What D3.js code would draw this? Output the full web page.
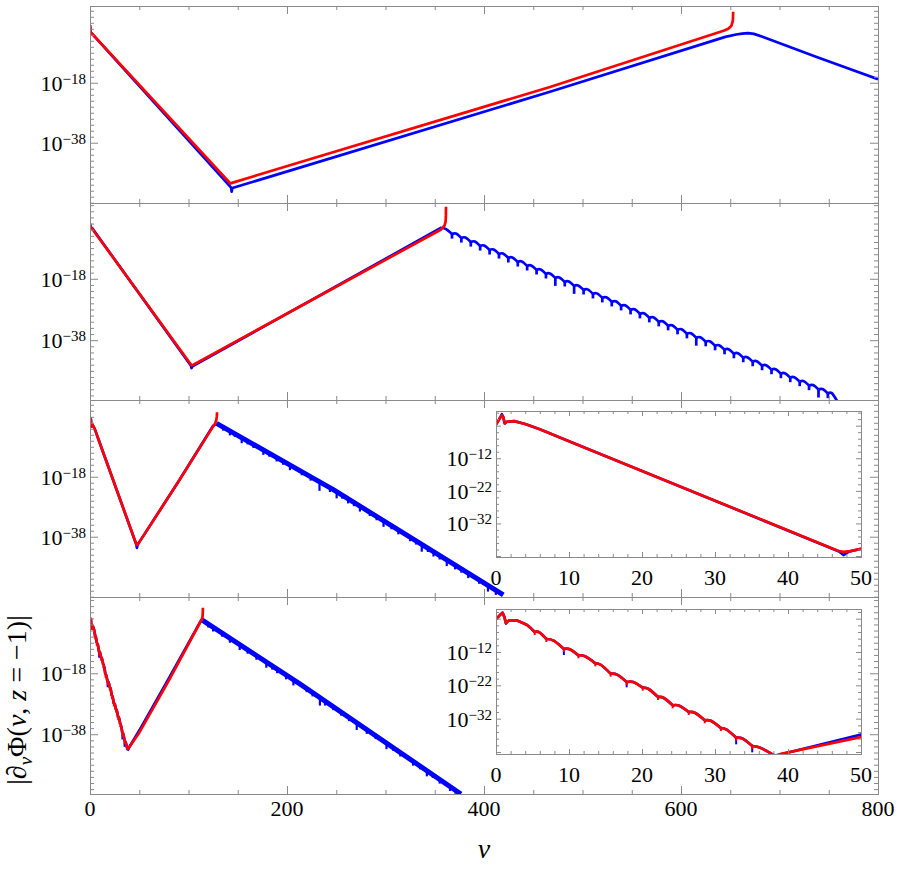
<!DOCTYPE html>
<html>
<head>
<meta charset="utf-8">
<script src="https://cdn.jsdelivr.net/npm/d3@7"></script>
<style>
  body { margin: 0; background: #fff; }
</style>
</head>
<body>
<script>
// values are [v, log10 |d_v Phi|]

// panel 1
const p1Blue = [[0,1.2],[0.7,-1.2],[2,-1.6],[143.3,-53.0],[143.8,-54.3],[144.6,-53.1],[213,-46.3],[467,-21.0],
  [645,-2.7],[656,-1.9],[662,-1.6],[668,-1.45],[674,-1.7],[682,-2.6],[737.7,-9.4],[800,-16.8]];
const p1Red = [[0,1.2],[0.7,-1.2],[2,-1.6],[142.5,-51.6],[145,-51.3],[213,-44.5],[467,-19.4],[644,-0.6],
  [648,0.0],[651,0.9],[652.6,2.6],[653,5.7]];

// panel 2
const p2Blue = [[0,0.0],[0.7,-1.2],[2,-1.4],[102.5,-46.3],[103,-47.1],[104,-46.5],[357,-1.3]];
// tail: cusp, arch top, cusp, arch top, ...
const p2BlueArches = [
  [357,-1.3],[361.5,-1.8],[367.5,-3.4],[371.5,-3.25],[377.0,-4.7],[381.0,-4.55],[386.6,-6.0],[390.6,-5.85],
  [396.1,-7.3],[400.1,-7.15],[405.7,-8.6],[409.7,-8.45],[415.2,-9.9],[419.2,-9.75],[424.7,-11.2],[428.7,-11.05],
  [434.3,-12.5],[438.3,-12.35],[443.8,-13.8],[447.8,-13.65],[453.4,-15.1],[457.4,-14.95],[462.9,-16.4],[466.9,-16.25],
  [472.4,-17.7],[476.4,-17.55],[482.0,-19.0],[486.0,-18.85],[491.5,-20.3],[495.5,-20.15],[501.1,-21.6],[505.1,-21.45],
  [510.6,-22.9],[514.6,-22.75],[520.1,-24.2],[524.1,-24.05],[529.7,-25.5],[533.7,-25.35],[539.2,-26.8],[543.2,-26.65],
  [548.8,-28.1],[552.8,-27.95],[558.3,-29.4],[562.3,-29.25],[567.8,-30.7],[571.8,-30.55],[577.4,-32.0],[581.4,-31.85],
  [586.9,-33.3],[590.9,-33.15],[596.5,-34.6],[600.5,-34.45],[606.0,-35.9],[610.0,-35.75],[615.5,-37.2],[619.5,-37.05],
  [625.1,-38.5],[629.1,-38.35],[634.6,-39.8],[638.6,-39.65],[644.2,-41.1],[648.2,-40.95],[653.7,-42.4],[657.7,-42.25],
  [663.2,-43.7],[667.2,-43.55],[672.8,-45.0],[676.8,-44.85],[682.3,-46.3],[686.3,-46.15],[691.9,-47.6],[695.9,-47.45],
  [701.4,-48.9],[705.4,-48.75],[710.9,-50.2],[714.9,-50.05],[720.5,-51.5],[724.5,-51.35],[730.0,-52.8],[734.0,-52.65],
  [739.6,-54.1],[743.6,-53.95],[749.1,-55.4],[753.1,-55.25],[758.6,-57.9]];
// [v, top, tip]
const p2BlueSpikes = [
  [367.5,-3.4,-4.9],[377.0,-4.7,-6.2],[386.6,-6.0,-7.5],[396.1,-7.3,-8.8],[405.7,-8.6,-10.1],[415.2,-9.9,-11.4],
  [424.7,-11.2,-12.7],[434.3,-12.5,-14.0],[443.8,-13.8,-15.3],[453.4,-15.1,-16.6],[462.9,-16.4,-17.9],[472.4,-17.7,-20.3],
  [482.0,-19.0,-20.5],[491.5,-20.3,-22.9],[501.1,-21.6,-23.1],[510.6,-22.9,-24.4],[520.1,-24.2,-25.7],[529.7,-25.5,-27.0],
  [539.2,-26.8,-28.3],[548.8,-28.1,-29.6],[558.3,-29.4,-30.9],[567.8,-30.7,-32.2],[577.4,-32.0,-33.5],[586.9,-33.3,-34.8],
  [596.5,-34.6,-36.1],[606.0,-35.9,-37.4],[615.5,-37.2,-39.8],[625.1,-38.5,-40.0],[634.6,-39.8,-41.3],[644.2,-41.1,-42.6],
  [653.7,-42.4,-43.9],[663.2,-43.7,-45.2],[672.8,-45.0,-46.5],[682.3,-46.3,-47.8],[691.9,-47.6,-49.1],[701.4,-48.9,-50.4],
  [710.9,-50.2,-51.7],[720.5,-51.5,-53.0],[730.0,-52.8,-54.3],[739.6,-54.1,-56.7],[749.1,-55.4,-56.9]];
const p2Red = [[0,-0.3],[0.7,-1.3],[2,-1.6],[103,-46.2],[105,-46.0],[356,-2.0],[358,-1.4],
  [360,-0.6],[361,0.6],[361.3,2.5],[361.4,5.5]];

// panel 3 (inset shows v = 0..50)
const p3Blue = [[0,-1.7],[0.5,0.2],[0.8,1.5],[1.0,0.6],[1.2,-1.3],[1.5,-0.8],[2.5,-0.6],[4,-1.5],[6,-3.1],
  [10,-6.8],[20,-15.9],[47.0,-40.6],[47.6,-41.7],[48.3,-40.7],[50,-39.8],[55,-37.3],[90,-19.5],[125,-1.0],[128.5,-0.2]];
const p3BlueTail = [[128.5,-0.2],[247,-22.3],[419.6,-57.4]];
const p3TailSpikes = [
  [135,-1.4,-2.6],[142,-2.7,-4.2],[147,-3.7,-4.7],[154,-5.0,-6.8],[160,-6.1,-7.2],[166,-7.2,-8.4],[176,-9.1,-10.7],
  [182,-10.2,-11.3],[189.5,-11.6,-12.9],[196,-12.8,-14.0],[203,-14.1,-15.8],[215,-16.3,-17.5],[224,-18.0,-19.3],
  [233,-19.7,-22.7],[243.6,-21.7,-23.1],[250.4,-23.0,-25.2],[256,-24.1,-25.3],[262,-25.4,-26.9],[268,-26.6,-27.8],
  [274,-27.8,-29.6],[284,-29.8,-31.1],[291,-31.2,-32.5],[298,-32.7,-34.7],[306,-34.3,-35.5],[313,-35.7,-37.2],
  [325,-38.2,-39.5],[331,-39.4,-40.6],[336.8,-40.6,-43.0],[343,-41.9,-43.1],[348.7,-43.0,-44.6],[355,-44.3,-45.6],
  [362.2,-45.8,-47.8],[370.6,-47.5,-48.9],[377,-48.8,-50.0],[384,-50.2,-51.8],[395,-52.4,-53.7],[404,-54.3,-56.3],
  [412,-55.9,-57.4]];
const p3Red = [[0,-1.7],[0.5,0.2],[0.8,1.2],[1.0,0.6],[1.2,-1.3],[1.5,-0.8],[2.5,-0.6],[4,-1.5],[6,-3.1],
  [10,-6.8],[20,-15.9],[47.0,-40.5],[47.6,-40.7],[48.5,-40.5],[50,-39.8],[55,-37.3],[90,-19.5],[125,-1.2],
  [127,-0.3],[128.2,0.9],[128.8,2.2],[129,3.5]];

// panel 4 (inset shows v = 0..50)
const p4Head = [[0,-2.2],[0.5,-1.0],[0.9,-0.2],[1.15,-1.5],[1.37,-3.4],[1.6,-2.8],[1.9,-2.5],[2.8,-2.5],
  [3.6,-3.2],[4.2,-3.8],[4.8,-4.9],[5.3,-6.0]];
const p4Arches = [
  [5.3,-6.0],[5.95,-6.1],[6.9,-8.1],[7.9,-8.6],[9.3,-11.1],[10.1,-11.2],[11.3,-13.0],[12.2,-13.3],
  [13.6,-15.4],[14.4,-15.9],[15.7,-18.5],[16.6,-18.8],[17.9,-21.0],[18.8,-21.0],[20.1,-22.7],[20.9,-23.1],
  [22.2,-25.5],[23.0,-25.8],[24.2,-28.0],[25.1,-28.1],[26.4,-30.0],[27.3,-30.3],[28.6,-32.5],[29.5,-32.7],
  [30.8,-34.8],[31.6,-35.3],[32.9,-37.7],[33.8,-38.0],[35.1,-40.2],[36.2,-40.7],[38.2,-43.1]];
const p4RedSpikes = [
  [5.3,-6.0,-6.9],[6.9,-8.1,-9.0],[9.3,-11.1,-12.0],[11.3,-13.0,-13.9],[13.6,-15.4,-16.3],[15.7,-18.5,-19.4],
  [17.9,-21.0,-21.9],[20.1,-22.7,-23.6],[22.2,-25.5,-26.4],[24.2,-28.0,-28.9],[26.4,-30.0,-30.9],[28.6,-32.5,-33.4],
  [30.8,-34.8,-35.7],[32.9,-37.7,-38.6],[35.1,-40.2,-41.1]];
const p4BlueSpikes = [[9.3,-11.1,-12.9],[17.9,-21.0,-22.6],[32.9,-37.7,-39.7],[35.1,-40.2,-42.1]];
const p4BlueRise = [[38.2,-43.4],[39.2,-42.6],[50,-36.8],[80,-19.7],[113.2,-0.4]];
const p4BlueTail = [[113.2,-0.4],[213,-21.5],[376.6,-57.6]];
const p4TailSpikes = [
  [120,-1.8,-3.0],[125,-2.9,-4.3],[134,-4.8,-6.0],[142,-6.5,-8.0],[152,-8.6,-10.4],[160,-10.3,-11.6],[169,-12.2,-13.6],
  [179,-14.3,-16.2],[185,-15.6,-16.8],[190,-16.7,-18.0],[199,-18.6,-20.0],[206.5,-20.1,-22.0],[220,-23.0,-24.2],
  [226,-24.4,-25.6],[233.4,-26.0,-28.6],[238.6,-27.1,-28.6],[247,-28.9,-30.1],[255,-30.7,-31.9],[263,-32.4,-33.7],
  [270.8,-34.2,-36.6],[281,-36.4,-37.9],[290,-38.4,-39.6],[301,-40.8,-42.9],[308,-42.3,-43.5],[315,-43.9,-45.3],
  [328,-46.8,-48.3],[335,-48.3,-49.5],[342,-49.7,-51.8],[348,-51.1,-52.3],[355,-52.7,-54.2],[365.5,-54.9,-56.6],
  [371,-56.2,-57.5]];
const p4RedRise = [[38.2,-43.1],[39.2,-42.5],[50,-37.5],[80,-20.4],[112,-1.2],[113.4,-0.5],[114.2,0.5],
  [114.5,2.0],[114.6,3.5]];

// axes
const xTickLabels = [0, 200, 400, 600, 800];
const yTickLabels = [-18, -38];
const insetXTickLabels = [0, 10, 20, 30, 40, 50];
const insetYTickLabels = [-12, -22, -32];

const FONT = "'Liberation Serif', 'DejaVu Serif', 'Times New Roman', serif";
const BLUE = "#0000ff", RED = "#ff0000", GRID = "#8a8a8a";
const LW = 2.7;

const svg = d3.select("body").append("svg")
  .attr("width", 899)
  .attr("height", 872)
  .style("font-family", FONT);

const left = 90, right = 878, panelH = 197;
const panels = [
  {top: 6,   dom: [-58.1, 7.6]},
  {top: 203, dom: [-57.5, 6.7]},
  {top: 400, dom: [-58.1, 7.6]},
  {top: 597, dom: [-57.6, 7.0]}
];

const xScale = d3.scaleLinear().domain([0, 800]).range([left, right]);
let clipId = 0;

const makeY = (dom, top, bottom) => d3.scaleLog()
  .domain([Math.pow(10, dom[0]), Math.pow(10, dom[1])])
  .range([bottom, top]);

const plotArea = (xs, ys, white) => {
  const [l, r] = xs.range();
  const [b, t] = ys.range();
  const id = "clip" + (clipId++);
  svg.append("clipPath").attr("id", id)
    .append("rect").attr("x", l).attr("y", t).attr("width", r - l).attr("height", b - t);
  if (white) {
    svg.append("rect").attr("x", l).attr("y", t).attr("width", r - l).attr("height", b - t)
      .attr("fill", "#fff");
  }
  return svg.append("g").attr("clip-path", `url(#${id})`);
};

const drawLine = (g, xs, ys, pts, color, w) => {
  const line = d3.line()
    .x(d => xs(d[0]))
    .y(d => ys(Math.pow(10, d[1])));
  g.append("path")
    .datum(pts)
    .attr("fill", "none")
    .attr("stroke", color)
    .attr("stroke-width", w || LW)
    .attr("stroke-linejoin", "round")
    .attr("d", line);
};

const drawArches = (g, xs, ys, pts, color) => {
  const arch = d3.line()
    .x(d => xs(d[0]))
    .y(d => ys(Math.pow(10, d[1])))
    .curve(d3.curveNatural);
  for (let i = 0; i + 2 < pts.length; i += 2) {
    g.append("path")
      .datum(pts.slice(i, i + 3))
      .attr("fill", "none")
      .attr("stroke", color)
      .attr("stroke-width", LW)
      .attr("d", arch);
  }
};

const drawSpikes = (g, xs, ys, spikes, color, w) => {
  g.selectAll(null)
    .data(spikes)
    .enter()
    .append("line")
    .attr("x1", d => xs(d[0]))
    .attr("x2", d => xs(d[0]))
    .attr("y1", d => ys(Math.pow(10, d[1])))
    .attr("y2", d => ys(Math.pow(10, d[2])))
    .attr("stroke", color)
    .attr("stroke-width", w || LW);
};

const frame = (xs, ys, o) => {
  const [l, r] = xs.range();
  const [b, t] = ys.range();
  const add = (gen, tr) => {
    const a = svg.append("g").attr("transform", tr).call(gen);
    a.select(".domain").remove();
    a.selectAll("text").remove();
    a.selectAll("line").attr("stroke", GRID);
  };
  [[o.xMinor, o.minLen], [o.xMajor, o.majLen]].forEach(([vals, len]) => {
    add(d3.axisBottom(xs).tickValues(vals).tickSize(-len), `translate(0,${b})`);
    add(d3.axisTop(xs).tickValues(vals).tickSize(-len), `translate(0,${t})`);
  });
  [[o.yMinor, o.minLen], [o.yMajor, o.majLen]].forEach(([vals, len]) => {
    const tv = vals.map(e => Math.pow(10, e));
    add(d3.axisLeft(ys).tickValues(tv).tickSize(-len), `translate(${l},0)`);
    add(d3.axisRight(ys).tickValues(tv).tickSize(-len), `translate(${r},0)`);
  });
  svg.append("rect")
    .attr("x", l + 0.5).attr("y", t + 0.5)
    .attr("width", r - l).attr("height", b - t)
    .attr("fill", "none")
    .attr("stroke", GRID)
    .attr("stroke-width", 1);
};

const powerLabels = (xPos, ys, exps) => {
  exps.forEach(e => {
    const t = svg.append("text")
      .attr("x", xPos)
      .attr("y", ys(Math.pow(10, e)) + 8)
      .attr("text-anchor", "end")
      .style("font-family", FONT)
      .style("font-size", "22px");
    t.append("tspan").text("10");
    t.append("tspan").attr("dy", -7).style("font-size", "15px").text("\u2212" + Math.abs(e));
  });
};

const inRange = (dom, step, skip) => d3.range(Math.ceil(dom[0] / step) * step, dom[1], step)
  .filter(e => !skip.includes(e));

// main panels
const yScales = panels.map(p => makeY(p.dom, p.top, p.top + panelH));
const areas = panels.map((p, i) => plotArea(xScale, yScales[i], false));

// panel 1
drawLine(areas[0], xScale, yScales[0], p1Blue, BLUE);
drawLine(areas[0], xScale, yScales[0], p1Red, RED);

// panel 2
drawLine(areas[1], xScale, yScales[1], p2Blue, BLUE);
drawArches(areas[1], xScale, yScales[1], p2BlueArches, BLUE);
drawSpikes(areas[1], xScale, yScales[1], p2BlueSpikes, BLUE);
drawLine(areas[1], xScale, yScales[1], p2Red, RED);

// panel 3
drawLine(areas[2], xScale, yScales[2], p3Blue, BLUE);
drawLine(areas[2], xScale, yScales[2], p3BlueTail, BLUE, 5);
drawSpikes(areas[2], xScale, yScales[2], p3TailSpikes, BLUE, 2.2);
drawLine(areas[2], xScale, yScales[2], p3Red, RED);

// panel 4
const drawP4 = (g, xs, ys, withTail) => {
  drawLine(g, xs, ys, p4Head, BLUE);
  drawArches(g, xs, ys, p4Arches, BLUE);
  drawSpikes(g, xs, ys, p4BlueSpikes, BLUE, 2);
  drawLine(g, xs, ys, p4BlueRise, BLUE);
  if (withTail) {
    drawLine(g, xs, ys, p4BlueTail, BLUE, 5);
    drawSpikes(g, xs, ys, p4TailSpikes, BLUE, 2.2);
  }
  drawLine(g, xs, ys, p4Head, RED);
  drawArches(g, xs, ys, p4Arches, RED);
  drawSpikes(g, xs, ys, p4RedSpikes, RED, 2);
  drawLine(g, xs, ys, p4RedRise, RED);
};
drawP4(areas[3], xScale, yScales[3], true);

panels.forEach((p, i) => {
  frame(xScale, yScales[i], {
    xMajor: xTickLabels,
    xMinor: d3.range(50, 800, 50).filter(v => v % 200 !== 0),
    yMajor: yTickLabels,
    yMinor: inRange(p.dom, 2, yTickLabels),
    majLen: 8, minLen: 4
  });
  powerLabels(left - 4, yScales[i], yTickLabels);
});

// insets
const insetX = d3.scaleLinear().domain([0, 50]).range([496, 861]);
const insets = [
  {top: 411, bottom: 557, dom: [-42.3, 2.5], labelY: 585},
  {top: 609, bottom: 754, dom: [-42.6, 0.9], labelY: 782}
];
insets.forEach((ins, i) => {
  const ys = makeY(ins.dom, ins.top, ins.bottom);
  const g = plotArea(insetX, ys, true);
  if (i === 0) {
    drawLine(g, insetX, ys, p3Blue, BLUE);
    drawLine(g, insetX, ys, p3Red, RED);
  } else {
    drawP4(g, insetX, ys, false);
  }
  frame(insetX, ys, {
    xMajor: insetXTickLabels,
    xMinor: d3.range(2, 50, 2).filter(v => v % 10 !== 0),
    yMajor: [-42, -32, -22, -12, -2],
    yMinor: inRange(ins.dom, 2, [-42, -32, -22, -12, -2]),
    majLen: 5, minLen: 3
  });
  powerLabels(492, ys, insetYTickLabels);
  svg.selectAll(null)
    .data(insetXTickLabels)
    .enter()
    .append("text")
    .attr("x", d => insetX(d))
    .attr("y", ins.labelY)
    .attr("text-anchor", "middle")
    .style("font-family", FONT)
    .style("font-size", "22px")
    .text(d => d);
});

// bottom axis labels
svg.selectAll(null)
  .data(xTickLabels)
  .enter()
  .append("text")
  .attr("x", d => xScale(d))
  .attr("y", 816)
  .attr("text-anchor", "middle")
  .style("font-family", FONT)
  .style("font-size", "22px")
  .text(d => d);

svg.append("text")
  .attr("x", (left + right) / 2)
  .attr("y", 858)
  .attr("text-anchor", "middle")
  .style("font-family", FONT)
  .style("font-size", "28px")
  .style("font-style", "italic")
  .text("v");

const yTitle = svg.append("text")
  .attr("transform", "translate(26,700) rotate(-90)")
  .attr("text-anchor", "middle")
  .style("font-family", FONT)
  .style("font-size", "28px");
yTitle.append("tspan").text("|\u2202");
yTitle.append("tspan").attr("dy", 6).style("font-size", "19px").style("font-style", "italic").text("v");
yTitle.append("tspan").attr("dy", -6).text("\u03A6(");
yTitle.append("tspan").style("font-style", "italic").text("v");
yTitle.append("tspan").text(", ");
yTitle.append("tspan").style("font-style", "italic").text("z");
yTitle.append("tspan").text(" = \u22121)|");
</script>
</body>
</html>
